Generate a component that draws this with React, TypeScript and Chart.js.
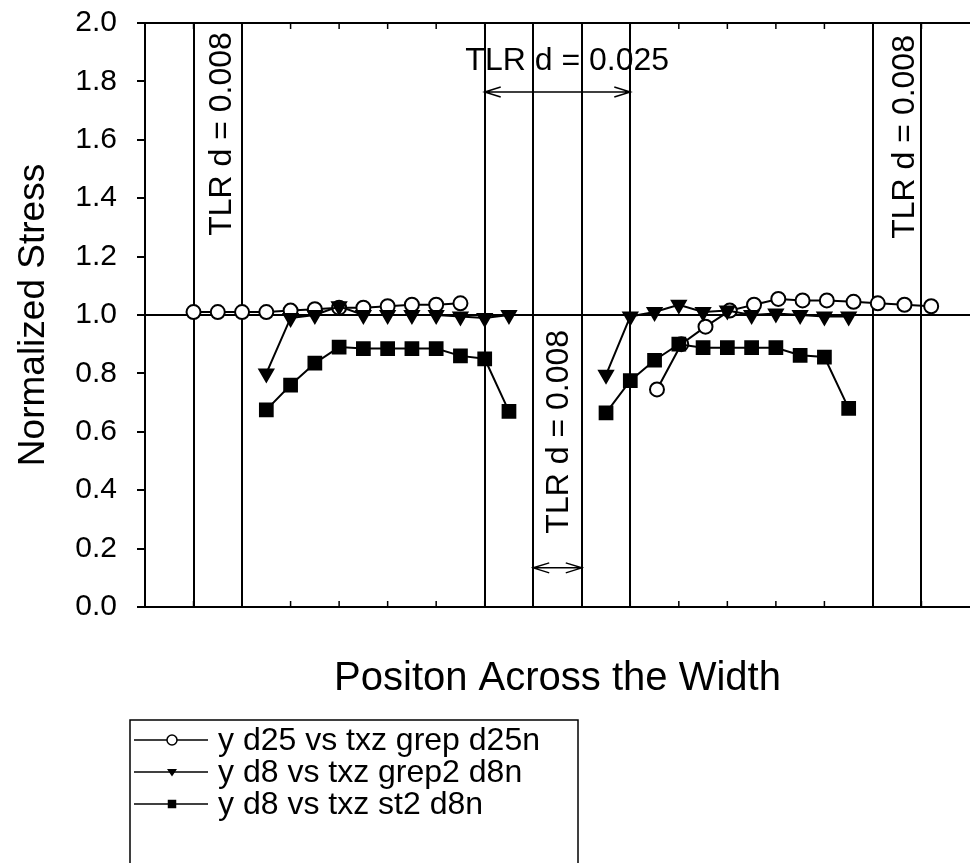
import React, { useEffect, useRef } from "react";
import { Chart, registerables } from "chart.js";

Chart.register(...registerables);

// ---------- data ----------
const seriesLabels = [
  "y d25 vs txz grep d25n",
  "y d8 vs txz grep2 d8n",
  "y d8 vs txz st2 d8n",
];

// circles (y d25 vs txz grep d25n)
const circleX = [1, 1.5, 2, 2.5, 3, 3.5, 4, 4.5, 5, 5.5, 6, 6.5, null, 10.55, 11.05, 11.55, 12.05, 12.55, 13.05, 13.55, 14.05, 14.6, 15.1, 15.65, 16.2];
const circleY = [1.01, 1.01, 1.01, 1.01, 1.015, 1.02, 1.025, 1.025, 1.03, 1.035, 1.035, 1.04, null, 0.745, 0.9, 0.96, 1.015, 1.035, 1.055, 1.05, 1.05, 1.045, 1.04, 1.035, 1.03];

// triangles (y d8 vs txz grep2 d8n)
const triX = [2.5, 3, 3.5, 4, 4.5, 5, 5.5, 6, 6.5, 7, 7.5, null, 9.5, 10, 10.5, 11, 11.5, 12, 12.5, 13, 13.5, 14, 14.5];
const triY = [0.8, 0.99, 1.0, 1.03, 1.0, 1.0, 1.0, 1.0, 0.995, 0.99, 1.0, null, 0.795, 0.995, 1.01, 1.035, 1.01, 1.015, 1.0, 1.005, 1.0, 0.995, 0.995];

// squares (y d8 vs txz st2 d8n)
const sqX = [2.5, 3, 3.5, 4, 4.5, 5, 5.5, 6, 6.5, 7, 7.5, null, 9.5, 10, 10.5, 11, 11.5, 12, 12.5, 13, 13.5, 14, 14.5];
const sqY = [0.675, 0.76, 0.835, 0.89, 0.885, 0.885, 0.885, 0.885, 0.86, 0.85, 0.67, null, 0.665, 0.775, 0.845, 0.9, 0.888, 0.888, 0.888, 0.888, 0.862, 0.856, 0.68];

const yTickLabels = ["0.0", "0.2", "0.4", "0.6", "0.8", "1.0", "1.2", "1.4", "1.6", "1.8", "2.0"];
const xMin = 0;
const xMax = 17;
const yMin = 0;
const yMax = 2;
const verticalLines = [1, 2, 7, 8, 9, 10, 15, 16];
const referenceLine = 1.0;

const xTitle = "Positon Across the Width";
const yTitle = "Normalized Stress";

// annotations (data units)
const rotatedNotes = [
  { text: "TLR d = 0.008", x: 1.6, y: 1.62 },
  { text: "TLR d = 0.008", x: 8.53, y: 0.6 },
  { text: "TLR d = 0.008", x: 15.66, y: 1.61 },
];
const topNote = { text: "TLR d = 0.025", x: 8.7, y: 1.84 };
const arrows = [
  { x1: 7, x2: 10, y: 1.764 },
  { x1: 8, x2: 9, y: 0.134 },
];

const FONT = "'Liberation Sans', Arial, Helvetica, sans-serif";

function toPoints(xs: (number | null)[], ys: (number | null)[]) {
  return xs.map((x, i) => ({ x: x === null ? NaN : x, y: ys[i] }));
}

function drawMarker(ctx: CanvasRenderingContext2D, kind: string, x: number, y: number, r: number) {
  ctx.save();
  ctx.lineWidth = 1.5;
  ctx.strokeStyle = "#000";
  ctx.beginPath();
  if (kind === "circle") {
    ctx.arc(x, y, r, 0, Math.PI * 2);
    ctx.fillStyle = "#fff";
    ctx.fill();
    ctx.stroke();
  } else if (kind === "triangle") {
    ctx.moveTo(x - r, y - r * 0.6);
    ctx.lineTo(x + r, y - r * 0.6);
    ctx.lineTo(x, y + r * 0.9);
    ctx.closePath();
    ctx.fillStyle = "#000";
    ctx.fill();
  } else {
    ctx.rect(x - r * 0.85, y - r * 0.85, r * 1.7, r * 1.7);
    ctx.fillStyle = "#000";
    ctx.fill();
  }
  ctx.restore();
}

const overlayPlugin = {
  id: "overlay",
  beforeDatasetsDraw(chart: any) {
    const { ctx, chartArea, scales } = chart;
    const xs = scales.x;
    const ys = scales.y;
    ctx.save();
    ctx.strokeStyle = "#000";
    // top frame line
    ctx.lineWidth = 2;
    ctx.beginPath();
    ctx.moveTo(chartArea.left, chartArea.top);
    ctx.lineTo(chartArea.right, chartArea.top);
    ctx.stroke();
    // inner ticks top & bottom
    ctx.lineWidth = 1.5;
    for (let v = xMin + 1; v < xMax; v++) {
      const px = xs.getPixelForValue(v);
      ctx.beginPath();
      ctx.moveTo(px, chartArea.bottom);
      ctx.lineTo(px, chartArea.bottom - 6);
      ctx.moveTo(px, chartArea.top);
      ctx.lineTo(px, chartArea.top + 6);
      ctx.stroke();
    }
    // arrows
    ctx.lineWidth = 1.5;
    arrows.forEach((a) => {
      const x1 = xs.getPixelForValue(a.x1);
      const x2 = xs.getPixelForValue(a.x2);
      const y = ys.getPixelForValue(a.y);
      ctx.beginPath();
      ctx.moveTo(x1, y);
      ctx.lineTo(x2, y);
      ctx.moveTo(x1 + 16, y - 5);
      ctx.lineTo(x1, y);
      ctx.lineTo(x1 + 16, y + 5);
      ctx.moveTo(x2 - 16, y - 5);
      ctx.lineTo(x2, y);
      ctx.lineTo(x2 - 16, y + 5);
      ctx.stroke();
    });
    // texts
    ctx.fillStyle = "#000";
    ctx.font = `32px ${FONT}`;
    ctx.textAlign = "center";
    ctx.textBaseline = "middle";
    rotatedNotes.forEach((n) => {
      ctx.save();
      ctx.translate(xs.getPixelForValue(n.x), ys.getPixelForValue(n.y));
      ctx.rotate(-Math.PI / 2);
      ctx.fillText(n.text, 0, 0);
      ctx.restore();
    });
    ctx.textBaseline = "alphabetic";
    ctx.fillText(topNote.text, xs.getPixelForValue(topNote.x), ys.getPixelForValue(topNote.y));
    ctx.restore();
  },
  afterDraw(chart: any) {
    const { ctx } = chart;
    ctx.save();
    // legend box
    ctx.strokeStyle = "#000";
    ctx.lineWidth = 1.5;
    ctx.strokeRect(130, 720, 448, 200);
    const kinds = ["circle", "triangle", "rect"];
    const rowY = [740, 772, 804];
    ctx.font = `32px ${FONT}`;
    ctx.fillStyle = "#000";
    ctx.textAlign = "left";
    ctx.textBaseline = "middle";
    seriesLabels.forEach((label, i) => {
      const y = rowY[i];
      ctx.lineWidth = 1.5;
      ctx.beginPath();
      ctx.moveTo(134, y);
      ctx.lineTo(208, y);
      ctx.stroke();
      drawMarker(ctx, kinds[i], 172, y, 5);
      ctx.fillText(label, 218, y + 1);
    });
    ctx.restore();
  },
};

export default function App() {
  const ref = useRef<HTMLCanvasElement | null>(null);

  useEffect(() => {
    document.body.style.margin = "0";
    const canvas = ref.current;
    if (!canvas) return;
    const common = {
      borderColor: "#000",
      borderWidth: 2,
      pointBorderColor: "#000",
      pointBorderWidth: 2,
      tension: 0,
      spanGaps: false,
      showLine: true,
    };
    const chart = new Chart(canvas, {
      type: "scatter",
      data: {
        datasets: [
          {
            ...common,
            label: seriesLabels[0],
            data: toPoints(circleX, circleY),
            pointStyle: "circle",
            pointRadius: 7,
            pointBackgroundColor: "#fff",
            order: 3,
          },
          {
            ...common,
            label: seriesLabels[1],
            data: toPoints(triX, triY),
            pointStyle: "triangle",
            pointRotation: 180,
            pointRadius: 8,
            pointBackgroundColor: "#000",
            order: 2,
          },
          {
            ...common,
            label: seriesLabels[2],
            data: toPoints(sqX, sqY),
            pointStyle: "rect",
            pointRadius: 9,
            pointBackgroundColor: "#000",
            order: 1,
          },
        ],
      } as any,
      options: {
        responsive: false,
        animation: false,
        devicePixelRatio: 1,
        layout: { autoPadding: false, padding: { top: 23, right: 0, bottom: 0, left: 0 } },
        plugins: { legend: { display: false }, tooltip: { enabled: false } },
        scales: {
          x: {
            type: "linear",
            min: xMin,
            max: xMax,
            afterFit: (s: any) => {
              s.height = 256;
              s.paddingLeft = 0;
              s.paddingRight = 0;
            },
            ticks: { display: false, stepSize: 1 },
            grid: {
              drawTicks: false,
              lineWidth: 2,
              color: (c: any) =>
                c.tick && verticalLines.some((v) => Math.abs(v - c.tick.value) < 1e-6) ? "#000" : "rgba(0,0,0,0)",
            },
            border: { display: true, color: "#000", width: 2 },
            title: {
              display: true,
              text: xTitle,
              color: "#000",
              font: { family: FONT, size: 40 },
              padding: { top: 0, bottom: 160 },
            },
          },
          y: {
            type: "linear",
            min: yMin,
            max: yMax,
            afterFit: (s: any) => {
              s.width = 145;
              s.paddingTop = 0;
              s.paddingBottom = 0;
            },
            ticks: {
              stepSize: 0.2,
              padding: 20,
              color: "#000",
              font: { family: FONT, size: 30 },
              callback: (v: any) => yTickLabels[Math.round(Number(v) / 0.2)],
            },
            grid: {
              tickLength: 8,
              tickColor: "#000",
              tickWidth: 2,
              lineWidth: 2,
              color: (c: any) =>
                c.tick && Math.abs(c.tick.value - referenceLine) < 1e-6 ? "#000" : "rgba(0,0,0,0)",
            },
            border: { display: true, color: "#000", width: 2 },
            title: {
              display: true,
              text: yTitle,
              color: "#000",
              font: { family: FONT, size: 37 },
              padding: { top: 12, bottom: 0 },
            },
          },
        },
      } as any,
      plugins: [overlayPlugin],
    });
    return () => chart.destroy();
  }, []);

  return <canvas ref={ref} width={970} height={863} style={{ display: "block" }} />;
}
